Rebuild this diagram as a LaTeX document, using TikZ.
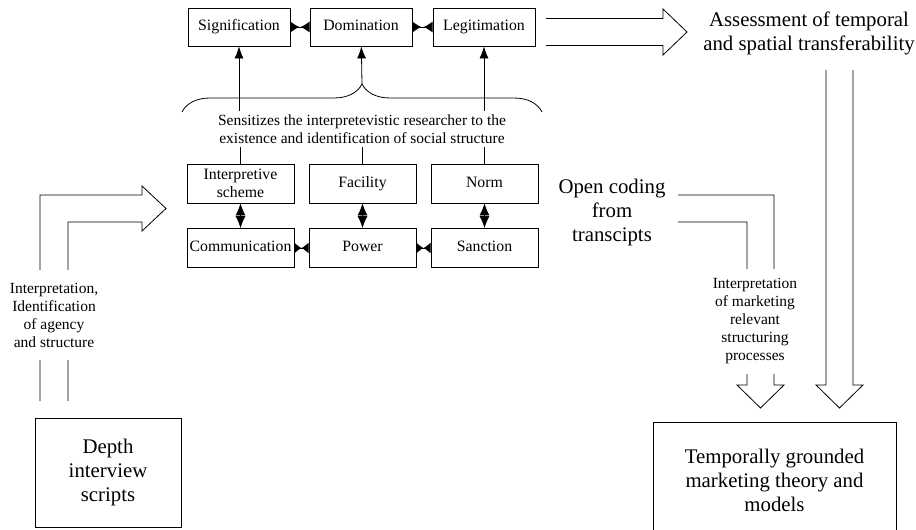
\documentclass[tikz,border=0pt]{standalone}
\usepackage{fontspec}
\setmainfont{Liberation Serif}
\usepackage{tikz}
\usetikzlibrary{arrows.meta}
\usetikzlibrary{decorations.pathreplacing}

\tikzset{
  box/.style={draw, line width=0.8pt, minimum width=107pt, minimum height=39pt,
    inner xsep=1pt, align=center, font=\fontsize{15.8}{18}\selectfont},
  oneline/.style={text height=11pt, text depth=3.5pt},
  topbox/.style={box, oneline, minimum width=102pt, minimum height=38pt},
  bigbox/.style={draw, line width=0.8pt, align=center, font=\fontsize{20.8}{24}\selectfont},
  bigtext/.style={align=center, font=\fontsize{20.8}{24}\selectfont},
  smalltext/.style={align=center, font=\fontsize{15.5}{18}\selectfont},
  hollow/.style={line width=0.8pt, line join=miter},
  up/.style={line width=0.8pt, -{Latex[length=12pt,width=9pt]}},
  duo/.style={line width=0.8pt, {Latex[length=12pt,width=10pt]}-{Latex[length=12pt,width=10pt]}},
  bowtie/.style={line width=0.8pt, {Latex[reversed,length=9pt,width=11pt]}-{Latex[reversed,length=9pt,width=11pt]}},
  smallbowtie/.style={line width=0.8pt, {Latex[reversed,length=7pt,width=11pt]}-{Latex[reversed,length=7pt,width=11pt]}}
}

\begin{document}
\begin{tikzpicture}[x=1pt, y=-1pt]
        \useasboundingbox (0,0) rectangle (916,530);

        \node[topbox] (sig) at (239, 27) {Signification};
        \node[topbox] (dom) at (361, 27) {Domination};
        \node[topbox] (leg) at (484, 27) {Legitimation};

        \node[box] (scheme) at (240.5, 183.5) {Interpretive\\scheme};
        \node[box, oneline] (fac) at (362.5, 183.5) {Facility};
        \node[box, oneline] (norm) at (484.5, 183.5) {Norm};

        \node[box, oneline] (comm) at (240.5, 248) {Communication};
        \node[box, oneline] (power) at (362.5, 248) {Power};
        \node[box, oneline] (sanc) at (484.5, 248) {Sanction};

        \node[smalltext] (sens) at (362, 129)
          {Sensitizes the interpretevistic researcher to the\\existence and identification of social structure};

        \draw[line width=0.8pt, decorate, decoration={brace, amplitude=28pt}]
          (182, 112) -- (542, 112);
        \coordinate (cusp) at (362, 84);

        \draw[bowtie] (sig) -- (dom);
        \draw[bowtie] (dom) -- (leg);
        \draw[smallbowtie] (comm) -- (power);
        \draw[smallbowtie] (power) -- (sanc);

        \draw[duo] (scheme) -- (comm);
        \draw[duo] (fac) -- (power);
        \draw[duo] (norm) -- (sanc);

        \draw[line width=0.8pt] (scheme) -- (scheme |- sens.south);
        \draw[line width=0.8pt] (fac) -- (fac |- sens.south);
        \draw[line width=0.8pt] (norm) -- (norm |- sens.south);
        \draw[up] (sig |- sens.north) -- (sig);
        \draw[up] (cusp) -- (dom);
        \draw[up] (leg |- sens.north) -- (leg);

        % block arrows
        \draw[hollow] (40, 401) -- (40, 195) -- (142, 195) -- (142, 186)
          -- (166, 208.5) -- (142, 231) -- (142, 222) -- (68, 222) -- (68, 401);
        \draw[hollow] (546, 18.5) -- (663, 18.5) -- (663, 9) -- (687, 32)
          -- (663, 55) -- (663, 45.5) -- (546, 45.5);
        \draw[hollow] (826, 70) -- (826, 385) -- (816, 385) -- (839.5, 408)
          -- (863, 385) -- (853, 385) -- (853, 70);
        \draw[hollow] (678, 195) -- (774, 195) -- (774, 385) -- (784, 385)
          -- (760.5, 408) -- (737, 385) -- (747, 385) -- (747, 222) -- (678, 222);

        \node[smalltext, fill=white, inner ysep=13pt] (interp) at (54, 315)
          {Interpretation,\\Identification\\of agency\\and structure};
        \node[smalltext, fill=white, inner ysep=10pt] (marketing) at (755, 321.5)
          {Interpretation\\of marketing\\relevant\\structuring\\processes};

        \node[bigtext] (assess) at (809, 33) {Assessment of temporal\\and spatial transferability};
        \node[bigtext] (opencoding) at (612, 212) {Open coding\\from\\transcipts};

        \node[bigbox, minimum width=146pt, minimum height=109pt] (depth) at (108, 472.5)
          {Depth\\interview\\scripts};
        \node[bigbox, minimum width=243pt, minimum height=116pt] (theory) at (774.5, 480)
          {Temporally grounded\\marketing theory and\\models};
      \end{tikzpicture}
\end{document}
